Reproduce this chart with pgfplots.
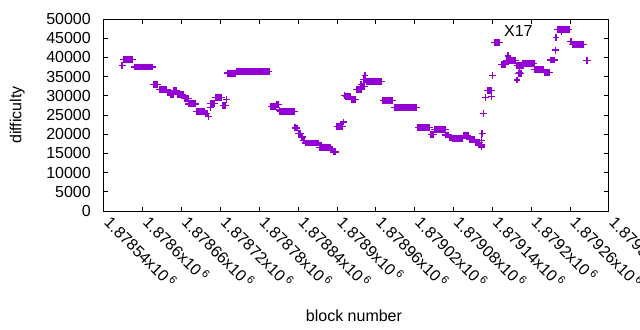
\documentclass[border=0pt]{standalone}
\usepackage{pgfplots}
\pgfplotsset{compat=1.18}
\usepackage{fontspec}
\setmainfont{Liberation Sans}
\definecolor{dv}{HTML}{9400D3}
\newcommand{\fs}{\fontsize{16bp}{19bp}\selectfont}
\newcommand{\tl}[1]{#1x10\hspace{2.5bp}\raisebox{6bp}{\fontsize{11bp}{11bp}\selectfont 6}}
\begin{document}
\begin{tikzpicture}
\useasboundingbox (-104bp,-119bp) rectangle (536bp,211bp);
\begin{axis}[
 scale only axis, width=505bp, height=192bp,
 x coord trafo/.code={\edef\pgfmathresult{\the\numexpr#1-1878540\relax}},
 x coord inv trafo/.code={\edef\pgfmathresult{#1}},
 xmin=1878540, xmax=1879320, ymin=0, ymax=50000,
 scaled y ticks=false, scaled x ticks=false,
 xtick={1878540,1878600,1878660,1878720,1878780,1878840,1878900,1878960,1879020,1879080,1879140,1879200,1879260,1879320},
 xticklabels={\tl{1.87854},\tl{1.8786},\tl{1.87866},\tl{1.87872},\tl{1.87878},\tl{1.87884},\tl{1.8789},\tl{1.87896},\tl{1.87902},\tl{1.87908},\tl{1.87914},\tl{1.8792},\tl{1.87926},\tl{1.87932}},
 ytick={0,5000,10000,15000,20000,25000,30000,35000,40000,45000,50000},
 yticklabels={0,5000,10000,15000,20000,25000,30000,35000,40000,45000,50000},
 axis line style={draw=black, line width=1bp},
 every tick/.style={draw=black, line width=1bp}, major tick length=4.5bp,
 tick align=inside,
 xticklabel style={font=\fs, text=black, xshift=9bp, yshift=-3bp, rotate=-45, anchor=north west, inner sep=0pt},
 yticklabel style={font=\fs, text=black, anchor=east, inner sep=0pt, xshift=-13bp},
 xlabel={block number}, ylabel={difficulty},
 every axis x label/.style={at={(axis description cs:0.495,-0.547)}, anchor=center, font=\fs, text=black},
 every axis y label/.style={at={(axis description cs:-0.172,0.5)}, anchor=center, rotate=90, font=\fs, text=black},
 legend plot pos=right,
 legend style={draw=none, fill=none, at={(rel axis cs:0.923,0.932)}, anchor=east, inner sep=0pt, nodes={inner sep=0pt, text=black}, font=\fs},
 legend image code/.code={\path (0,0) (36bp,0); \draw[#1] plot coordinates {(28bp,0)};},
]
\addplot[only marks, mark=+, mark size=3.4bp, color=dv, line width=1.3bp] table[row sep=\\] {
x y\\
1878568 37800\\
1878570 39500\\ 1878572 39500\\ 1878574 39500\\ 1878576 39500\\ 1878578 39500\\ 1878580 39500\\ 1878582 39500\\ 1878584 39500\\
1878587 37500\\ 1878589 37500\\ 1878591 37500\\ 1878593 37500\\ 1878595 37500\\ 1878597 37500\\ 1878599 37500\\ 1878601 37500\\ 1878603 37500\\ 1878605 37500\\ 1878607 37500\\ 1878609 37500\\ 1878611 37500\\ 1878613 37500\\ 1878615 37500\\
1878617 33000\\ 1878619 33000\\ 1878621 33000\\ 1878623 33000\\
1878626 31700\\ 1878628 31700\\ 1878630 31700\\ 1878632 31700\\ 1878634 31700\\ 1878636 31700\\
1878638 30900\\ 1878640 30900\\ 1878642 30900\\
1878643 30300\\ 1878645 30300\\ 1878647 30300\\
1878648 31400\\ 1878650 31400\\ 1878652 31400\\
1878654 30400\\ 1878656 30400\\ 1878658 30400\\ 1878660 30400\\ 1878662 30400\\
1878664 29300\\ 1878666 29300\\ 1878668 29300\\ 1878670 29300\\
1878671 27900\\ 1878673 27900\\ 1878675 27900\\ 1878677 27900\\ 1878679 27900\\ 1878681 27900\\
1878683 26000\\ 1878685 26000\\ 1878687 26000\\ 1878689 26000\\ 1878691 26000\\ 1878693 26000\\ 1878695 26000\\
1878697 25300\\ 1878699 25300\\ 1878701 24600\\
1878704 26900\\ 1878705 28000\\ 1878707 28000\\ 1878709 28000\\ 1878711 28000\\
1878712 29600\\ 1878714 29600\\ 1878716 29600\\ 1878718 29600\\ 1878720 29600\\ 1878722 29600\\
1878724 27400\\ 1878726 27400\\ 1878728 27400\\ 1878729 29100\\
1878731 35900\\ 1878733 35900\\ 1878735 35900\\ 1878737 35900\\ 1878739 35900\\ 1878741 35900\\ 1878743 35900\\
1878745 36300\\ 1878747 36300\\ 1878749 36300\\ 1878751 36300\\ 1878753 36300\\ 1878755 36300\\ 1878757 36300\\ 1878759 36300\\ 1878761 36300\\ 1878763 36300\\ 1878765 36300\\ 1878767 36300\\ 1878769 36300\\ 1878771 36300\\ 1878773 36300\\ 1878775 36300\\ 1878777 36300\\ 1878779 36300\\ 1878781 36300\\ 1878783 36300\\ 1878785 36300\\ 1878787 36300\\ 1878789 36300\\ 1878791 36300\\ 1878793 36300\\ 1878795 36300\\
1878798 27300\\ 1878800 27300\\ 1878802 27300\\ 1878804 27300\\
1878806 27700\\ 1878808 27700\\ 1878810 27700\\ 1878811 26300\\
1878812 25900\\ 1878814 25900\\ 1878816 25900\\ 1878818 25900\\ 1878820 25900\\ 1878822 25900\\ 1878824 25900\\ 1878826 25900\\ 1878828 25900\\ 1878830 25900\\ 1878832 25900\\ 1878834 25900\\
1878835 21800\\ 1878836 21600\\ 1878838 21600\\
1878840 20200\\ 1878842 20200\\ 1878844 20200\\
1878845 19300\\ 1878847 19300\\
1878848 18300\\ 1878850 18300\\
1878851 17700\\ 1878853 17700\\ 1878855 17700\\ 1878857 17700\\ 1878859 17700\\ 1878861 17700\\ 1878863 17700\\ 1878865 17700\\ 1878867 17700\\ 1878869 17700\\ 1878871 17700\\
1878873 16600\\ 1878875 16600\\ 1878877 16600\\ 1878879 16600\\ 1878881 16600\\ 1878883 16600\\ 1878885 16600\\ 1878887 16600\\ 1878889 16600\\
1878891 16000\\ 1878893 16000\\ 1878895 15400\\ 1878897 15400\\
1878900 22000\\ 1878902 22000\\ 1878904 22000\\ 1878906 22000\\ 1878908 22000\\ 1878910 23200\\
1878912 30000\\ 1878914 29900\\ 1878916 29900\\ 1878918 29900\\ 1878920 29900\\
1878922 29000\\ 1878924 29000\\ 1878926 29000\\ 1878928 29000\\
1878930 31700\\ 1878932 31700\\ 1878934 31700\\ 1878936 31700\\ 1878938 31700\\ 1878937 33000\\
1878940 32500\\ 1878942 32500\\ 1878941 34300\\ 1878943 34300\\ 1878943 35200\\
1878945 33700\\ 1878947 33700\\ 1878949 33700\\ 1878951 33700\\ 1878953 33700\\ 1878955 33700\\ 1878957 33700\\ 1878959 33700\\ 1878961 33700\\ 1878963 33700\\ 1878965 33700\\ 1878967 33700\\ 1878969 33700\\
1878971 28700\\ 1878973 28700\\ 1878975 28700\\ 1878977 28700\\ 1878979 28700\\ 1878981 28700\\ 1878983 28700\\ 1878985 28700\\
1878989 27000\\ 1878991 27000\\ 1878993 27000\\ 1878995 27000\\ 1878997 27000\\ 1878999 27000\\ 1879001 27000\\ 1879003 27000\\ 1879005 27000\\ 1879007 27000\\ 1879009 27000\\ 1879011 27000\\ 1879013 27000\\ 1879015 27000\\ 1879017 27000\\ 1879019 27000\\ 1879021 27000\\ 1879023 27000\\
1879025 21800\\ 1879027 21800\\ 1879029 21800\\ 1879031 21800\\ 1879033 21800\\ 1879035 21800\\ 1879037 21800\\ 1879039 21800\\ 1879041 21800\\ 1879043 21800\\
1879045 20000\\ 1879047 20000\\ 1879049 20000\\
1879051 21300\\ 1879053 21300\\ 1879055 21300\\ 1879057 21300\\ 1879059 21300\\ 1879061 21300\\ 1879063 21300\\ 1879065 21300\\ 1879067 21300\\
1879068 19800\\ 1879070 19800\\ 1879072 19800\\ 1879074 19100\\ 1879076 19100\\
1879078 18900\\ 1879080 18900\\ 1879082 18900\\ 1879084 18900\\ 1879086 18900\\ 1879088 18900\\ 1879090 18900\\ 1879092 18900\\ 1879094 18900\\
1879096 19600\\ 1879098 19600\\ 1879100 19600\\ 1879102 19600\\
1879104 18600\\ 1879106 18600\\ 1879108 18600\\ 1879110 18600\\ 1879112 18600\\
1879114 17800\\ 1879116 17800\\ 1879118 17800\\ 1879120 17800\\
1879121 17200\\ 1879123 17200\\ 1879123 16700\\ 1879123 18300\\ 1879124 20200\\
1879126 25400\\ 1879129 29600\\
1879132 31400\\ 1879134 31400\\ 1879136 31400\\ 1879138 31400\\ 1879138 29800\\ 1879140 35200\\
1879143 43800\\ 1879145 43800\\ 1879147 43800\\ 1879149 43800\\ 1879151 43800\\
1879154 38100\\ 1879156 38100\\ 1879158 38100\\ 1879160 38100\\
1879162 39200\\ 1879164 39200\\ 1879166 39200\\ 1879168 39200\\ 1879170 39200\\ 1879172 39200\\ 1879174 39200\\ 1879176 39200\\ 1879164 40400\\
1879178 37800\\ 1879180 37800\\ 1879182 37800\\ 1879184 37800\\ 1879186 37800\\ 1879188 37800\\
1879178 34100\\ 1879182 36000\\ 1879180 35800\\ 1879182 35800\\ 1879184 35800\\
1879186 38500\\ 1879188 38500\\ 1879190 38500\\ 1879192 38500\\ 1879194 38500\\ 1879196 38500\\ 1879198 38500\\ 1879200 38500\\ 1879202 38500\\ 1879204 38500\\
1879205 36900\\ 1879207 36900\\ 1879209 36900\\ 1879211 36900\\ 1879213 36900\\ 1879215 36900\\ 1879217 36900\\ 1879219 36900\\
1879220 36000\\ 1879222 36000\\ 1879224 36000\\ 1879226 36000\\ 1879228 36000\\
1879230 39300\\ 1879232 39300\\ 1879234 39300\\ 1879236 39300\\
1879237 41900\\ 1879238 45100\\
1879240 47300\\ 1879242 47300\\ 1879244 47300\\ 1879246 47300\\ 1879248 47300\\ 1879250 47300\\ 1879252 47300\\ 1879254 47300\\ 1879256 47300\\ 1879258 47300\\
1879260 44200\\ 1879262 44200\\
1879264 43400\\ 1879266 43400\\ 1879268 43400\\ 1879270 43400\\ 1879272 43400\\ 1879274 43400\\ 1879276 43400\\ 1879278 43400\\ 1879280 43400\\
1879285 39200\\ 1879287 39200\\
};
\addlegendentry{X17}
\end{axis}
\end{tikzpicture}
\end{document}
